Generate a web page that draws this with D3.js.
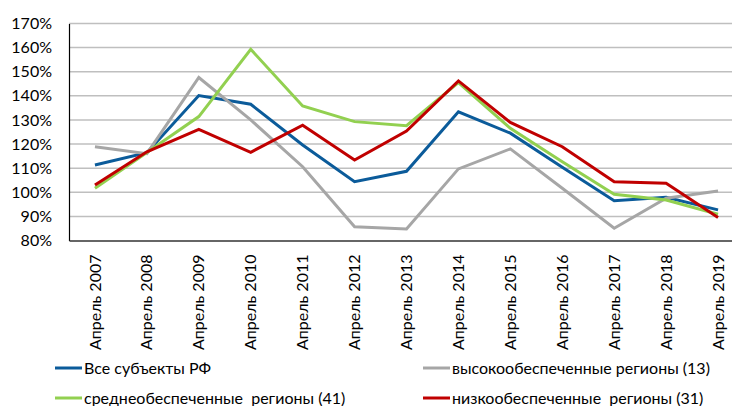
<!DOCTYPE html>
<html>
<head>
<meta charset="utf-8">
<script src="https://cdn.jsdelivr.net/npm/d3@7"></script>
<style>
    body { margin: 0; background: #fff; }
    svg text { font-family: Lato, "Open Sans", sans-serif; fill: #000; }
</style>
</head>
<body>
<div id="chart"></div>
<script>

// categories and series
var years = ["Апрель 2007", "Апрель 2008", "Апрель 2009", "Апрель 2010", "Апрель 2011",
    "Апрель 2012", "Апрель 2013", "Апрель 2014", "Апрель 2015", "Апрель 2016",
    "Апрель 2017", "Апрель 2018", "Апрель 2019"];

var allRegions  = [111.3, 116.4, 140.1, 136.5, 119.6, 104.4, 108.7, 133.4, 124.5, 110.4, 96.5, 97.9, 92.7];
var highRegions = [118.9, 116.0, 147.6, 130.0, 110.6, 85.7, 84.8, 109.7, 118.0, 101.7, 85.1, 97.5, 100.5];
var midRegions  = [101.7, 116.5, 131.4, 159.3, 135.8, 129.3, 127.6, 145.5, 126.5, 112.7, 99.2, 96.8, 90.9];
var lowRegions  = [103.0, 116.8, 126.1, 116.6, 127.8, 113.4, 125.4, 146.2, 129.0, 118.9, 104.4, 103.7, 89.5];

var yTicks = [80, 90, 100, 110, 120, 130, 140, 150, 160, 170];

var series = [
    {name: "Все субъекты РФ", values: allRegions, color: "#0b5b9a"},
    {name: "высокообеспеченные регионы (13)", values: highRegions, color: "#a6a6a6"},
    {name: "среднеобеспеченные  регионы (41)", values: midRegions, color: "#92d050"},
    {name: "низкообеспеченные  регионы (31)", values: lowRegions, color: "#c00000"}
];

var margin = {top: 23.5, left: 69},
    plotW = 675,   // plot runs past the right edge of the picture
    plotH = 217;

var svg = d3.select("#chart").append("svg")
    .attr("width", 732)
    .attr("height", 406);

var g = svg.append("g")
    .attr("transform", "translate(" + margin.left + "," + margin.top + ")");

var x = d3.scaleBand().domain(years).range([0, plotW]);
var y = d3.scaleLinear().domain([80, 170]).range([plotH, 0]);

// gridlines
g.selectAll(".grid")
    .data(yTicks.slice(1))
    .enter().append("line")
    .attr("class", "grid")
    .attr("x1", 0)
    .attr("x2", plotW)
    .attr("y1", function(d) { return y(d); })
    .attr("y2", function(d) { return y(d); })
    .attr("stroke", "#bfbfbf")
    .attr("stroke-width", 1.5);

// y axis
var yAxis = g.append("g")
    .call(d3.axisLeft(y).tickValues(yTicks).tickSize(0).tickPadding(17)
        .tickFormat(function(d) { return d + "%"; }));
yAxis.select(".domain").attr("stroke", "#000").attr("stroke-width", 1.2);
yAxis.selectAll("text").style("font-size", "16px");

// x axis
var xAxis = g.append("g")
    .attr("transform", "translate(0," + plotH + ")")
    .call(d3.axisBottom(x).tickSize(0));
xAxis.select(".domain").attr("stroke", "#333").attr("stroke-width", 1.5);
xAxis.selectAll("text")
    .style("font-size", "16px")
    .attr("text-anchor", "end")
    .attr("transform", "rotate(-90)")
    .attr("x", -14)
    .attr("y", 0)
    .attr("dy", "0.35em");

// lines
var line = d3.line()
    .x(function(d, i) { return x(years[i]) + x.bandwidth() / 2; })
    .y(function(d) { return y(d); });

g.selectAll(".series")
    .data(series)
    .enter().append("path")
    .attr("class", "series")
    .attr("fill", "none")
    .attr("stroke", function(d) { return d.color; })
    .attr("stroke-width", 3)
    .attr("d", function(d) { return line(d.values); });

// legend, two columns
var legendPos = [[55, 368], [423, 368], [55, 398], [423, 398]];

var legend = svg.selectAll(".legend")
    .data(series)
    .enter().append("g")
    .attr("class", "legend")
    .attr("transform", function(d, i) { return "translate(" + legendPos[i][0] + "," + legendPos[i][1] + ")"; });

legend.append("line")
    .attr("x1", 0)
    .attr("x2", 27)
    .attr("stroke", function(d) { return d.color; })
    .attr("stroke-width", 3);

legend.append("text")
    .attr("x", 29)
    .attr("dy", "0.35em")
    .style("font-size", "16px")
    .style("white-space", "pre")
    .text(function(d) { return d.name; });

</script>
</body>
</html>
